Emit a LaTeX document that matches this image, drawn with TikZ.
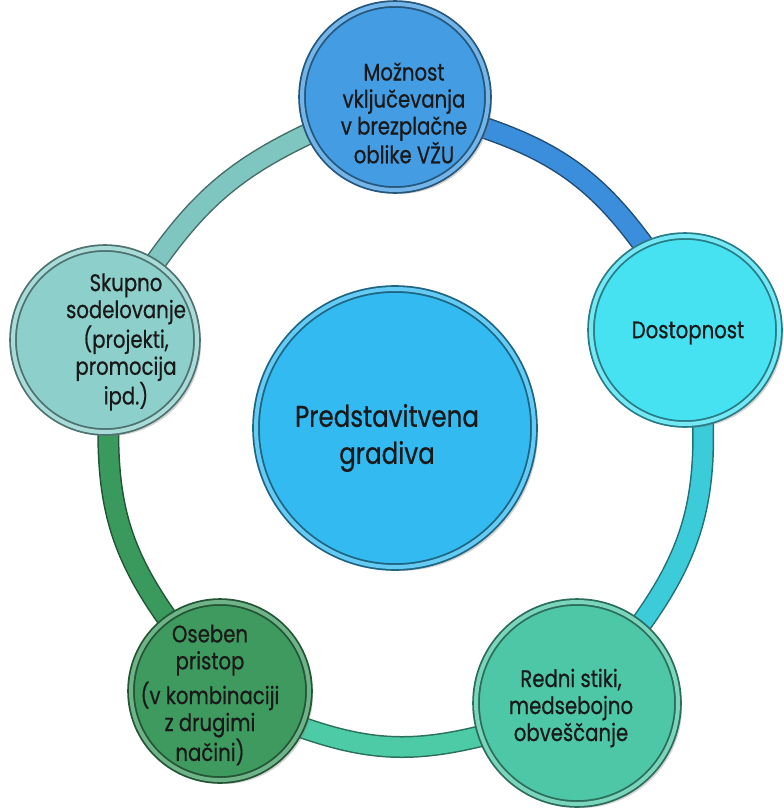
\documentclass[tikz,border=0pt]{standalone}
\usepackage{fontspec}
\setmainfont[FakeStretch=0.82, FakeBold=0.6]{Poppins}
\usetikzlibrary{backgrounds,shadows}

\definecolor{topblue}{HTML}{449CE2}
\definecolor{dostcyan}{HTML}{46E2F2}
\definecolor{centreblue}{HTML}{33BAF0}
\definecolor{rednigreen}{HTML}{4EC7A6}
\definecolor{osebgreen}{HTML}{3F9A60}
\definecolor{skupgrey}{HTML}{8DCFCB}
\definecolor{ringblue}{HTML}{3A8EDC}
\definecolor{ringcyan}{HTML}{3CCBD8}
\definecolor{ringteal}{HTML}{4CCBA6}
\definecolor{ringgreen}{HTML}{3A9A5E}
\definecolor{ringgrey}{HTML}{80C6C0}

\begin{document}
\begin{tikzpicture}[x=1pt, y=1pt,
    bubble/.style={circle, inner sep=0pt, fill=#1, draw=#1!55!black,
        double=#1!75!white, double distance=4pt, line width=1.8pt,
        drop shadow={shadow xshift=4pt, shadow yshift=-4pt, opacity=0.35}},
    ring/.style={draw=#1!55!black, double=#1, double distance=19pt,
        line width=1.5pt, shorten <=-6pt, shorten >=-6pt},
    txt/.style={align=center, text=black!90,
        font=\fontsize{24}{27}\selectfont}]
    \useasboundingbox (0,0) rectangle (784,-809);
    % Draw the circles
    \node[bubble=topblue, minimum size=186pt] (mozn) at (395,-97) {};
    \node[bubble=dostcyan, minimum size=188pt] (dost) at (685,-330) {};
    \node[bubble=rednigreen, minimum size=202pt] (redni) at (577,-703) {};
    \node[bubble=osebgreen, minimum size=178pt] (oseb) at (220,-691) {};
    \node[bubble=skupgrey, minimum size=184pt] (skup) at (105,-340) {};
    \node[bubble=centreblue, minimum size=278pt] (pred) at (395,-428) {};
    % Draw the texts
    \node[txt] (mozntxt) at (404,-113) {Možnost\\vključevanja\\v brezplačne\\oblike VŽU};
    \node[txt] (dosttxt) at (688,-333) {Dostopnost};
    \node[txt] (rednitxt) at (571,-708) {Redni stiki,\\medsebojno\\obveščanje};
    \node[txt] (osebtxt) at (210,-695) {Oseben\\pristop\\[5pt](v kombinaciji\\z drugimi\\načini)};
    \node[txt] (skuptxt) at (126,-342) {Skupno\\sodelovanje\\(projekti,\\promocija\\ipd.)};
    \node[txt, font=\fontsize{30}{37}\selectfont] (predtxt) at (387,-438) {Predstavitvena\\gradiva};
    % Draw the ring
    \begin{scope}[on background layer]
        \draw[ring=ringblue] (mozn.-19) to[bend left=18] (dost.116);
        \draw[ring=ringcyan] (dost.-79) to[bend left=19] (redni.51);
        \draw[ring=ringteal] (redni.199) to[bend left=17] (oseb.-24);
        \draw[ring=ringgreen] (oseb.126) to[bend left=18] (skup.-88);
        \draw[ring=ringgrey] (skup.57) to[bend left=15] (mozn.203);
    \end{scope}
\end{tikzpicture}
\end{document}
